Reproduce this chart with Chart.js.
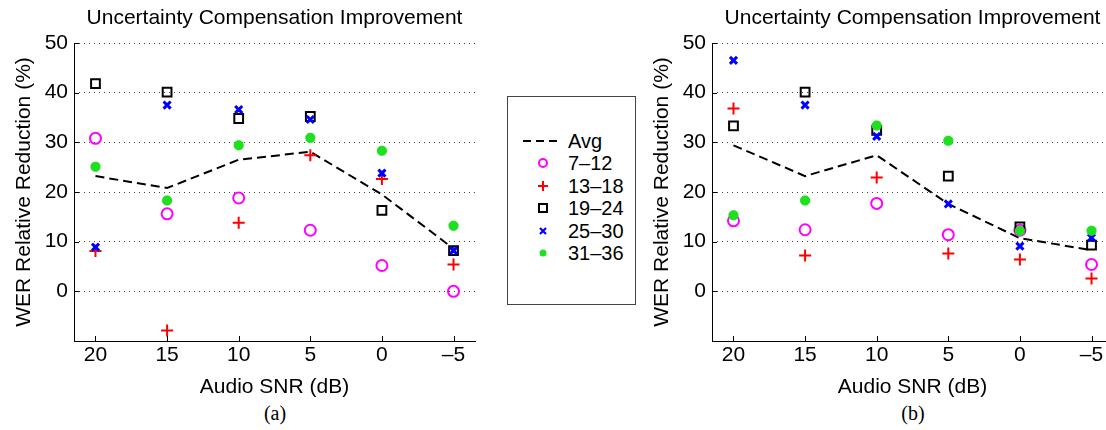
<!DOCTYPE html>
<html>
<head>
<meta charset="utf-8">
<script src="https://cdn.jsdelivr.net/npm/chart.js@4/dist/chart.umd.min.js"></script>
<style>
  body { margin: 0; width: 1106px; height: 430px; overflow: hidden; background: #fff; position: relative; font-family: "Liberation Sans", Arial, sans-serif; }
  canvas { position: absolute; top: 0; }
  #chartA { left: 0; }
  #chartB { left: 638px; }
  .cap { position: absolute; top: 402px; font: 20px "Liberation Serif", "Times New Roman", serif; width: 60px; text-align: center; }
  #legend { position: absolute; left: 507px; top: 96px; width: 127px; height: 207px; border: 1px solid #444; }
  .row { position: absolute; left: 0; height: 22px; width: 127px; font-size: 20px; line-height: 22px; color: #000; }
  .row svg { position: absolute; left: 13px; top: 0; }
  .row span { position: absolute; left: 60px; top: 0; }
</style>
</head>
<body>
<canvas id="chartA" width="490" height="400"></canvas>
<canvas id="chartB" width="490" height="400"></canvas>
<div class="cap" style="left:245px">(a)</div>
<div class="cap" style="left:883px">(b)</div>
<div id="legend"></div>
<script>
// Audio SNR (dB)
const snr = [20, 15, 10, 5, 0, -5];
const yTicks = [0, 10, 20, 30, 40, 50];
const seriesNames = ['Avg', '7\u201312', '13\u201318', '19\u201324', '25\u201330', '31\u201336'];

// panel (a)
const avgA   = [23.2, 20.8, 26.5, 28.1, 19.5, 8.6];
const g7_12A  = [30.8, 15.6, 18.8, 12.3, 5.2, 0.0];
const g13_18A = [8.1, -7.9, 13.8, 27.4, 22.6, 5.4];
const g19_24A = [41.8, 40.1, 34.8, 35.2, 16.3, 8.2];
const g25_30A = [8.9, 37.5, 36.6, 34.6, 23.8, 8.2];
const g31_36A = [25.1, 18.3, 29.4, 30.9, 28.3, 13.2];

// panel (b)
const avgB   = [29.4, 23.2, 27.4, 17.6, 10.7, 8.3];
const g7_12B  = [14.2, 12.4, 17.7, 11.4, 12.3, 5.4];
const g13_18B = [36.8, 7.2, 22.9, 7.6, 6.4, 2.6];
const g19_24B = [33.3, 40.1, 32.4, 23.2, 13.0, 9.3];
const g25_30B = [46.5, 37.5, 31.2, 17.6, 9.1, 10.8];
const g31_36B = [15.3, 18.3, 33.4, 30.3, 12.2, 12.2];

const FONT = "'Liberation Sans', Arial, sans-serif";
const FS = 21;

// marker look for each series (same order as seriesNames)
const looks = [
  { type: 'line', borderColor: '#000', borderWidth: 2, borderDash: [9, 5], pointRadius: 0, showLine: true },
  { pointStyle: 'circle', pointRadius: 5.5, borderColor: '#ff00ff', backgroundColor: 'rgba(0,0,0,0)', pointBorderWidth: 2 },
  { pointStyle: 'cross', pointRadius: 6, borderColor: '#ff0000', backgroundColor: '#ff0000', pointBorderWidth: 2 },
  { pointStyle: 'rect', pointRadius: 6.2, borderColor: '#000', backgroundColor: 'rgba(0,0,0,0)', pointBorderWidth: 2 },
  { pointStyle: 'crossRot', pointRadius: 5, borderColor: '#0000ff', backgroundColor: '#0000ff', pointBorderWidth: 3 },
  { pointStyle: 'star', pointRadius: 5, borderColor: '#1ee01e', backgroundColor: '#1ee01e', pointBorderWidth: 3.5 }
];

function pts(vals) {
  return snr.map((x, i) => ({ x: x, y: vals[i] }));
}

function makeDatasets(all) {
  return all.map((vals, i) => Object.assign({
    label: seriesNames[i],
    data: pts(vals),
    showLine: false,
    order: 6 - i
  }, looks[i]));
}

// small inward ticks like the original plot
const innerTicks = {
  id: 'innerTicks',
  afterDraw(chart) {
    const { ctx, chartArea, scales } = chart;
    ctx.save();
    ctx.strokeStyle = '#000';
    ctx.lineWidth = 1;
    ctx.setLineDash([]);
    ctx.beginPath();
    scales.y.ticks.forEach(t => {
      const y = Math.round(scales.y.getPixelForValue(t.value)) + 0.5;
      ctx.moveTo(chartArea.left, y);
      ctx.lineTo(chartArea.left + 5, y);
    });
    scales.x.ticks.forEach(t => {
      const x = Math.round(scales.x.getPixelForValue(t.value)) + 0.5;
      ctx.moveTo(x, chartArea.bottom);
      ctx.lineTo(x, chartArea.bottom - 5);
    });
    // axis lines
    ctx.moveTo(chartArea.left + 0.5, chartArea.top);
    ctx.lineTo(chartArea.left + 0.5, chartArea.bottom);
    ctx.stroke();
    ctx.restore();
  }
};

function makeChart(id, all) {
  return new Chart(document.getElementById(id), {
    type: 'scatter',
    data: { datasets: makeDatasets(all) },
    options: {
      responsive: false,
      animation: false,
      devicePixelRatio: 1,
      layout: { padding: { left: 0, right: 15, top: 0, bottom: 0 } },
      plugins: {
        legend: { display: false },
        tooltip: { enabled: false },
        title: {
          display: true,
          fullSize: false,
          text: 'Uncertainty Compensation Improvement',
          color: '#000',
          font: { family: FONT, size: FS, weight: 'normal' },
          padding: { top: 6, bottom: 11.8 }
        }
      },
      scales: {
        x: {
          type: 'linear',
          reverse: true,
          min: -6.5,
          max: 21.5,
          afterBuildTicks: s => { s.ticks = snr.map(v => ({ value: v })); },
          afterFit: s => { s.height = 59; },
          ticks: {
            color: '#000',
            padding: 2,
            font: { family: FONT, size: FS },
            callback: v => (v < 0 ? '\u2013' + Math.abs(v) : v)
          },
          grid: { display: true, drawOnChartArea: false, drawTicks: false },
          border: { display: true, color: '#000', width: 1 },
          title: {
            display: true,
            text: 'Audio SNR (dB)',
            color: '#000',
            font: { family: FONT, size: FS },
            padding: { top: 0, bottom: 0 }
          }
        },
        y: {
          min: -10,
          max: 50,
          afterBuildTicks: s => { s.ticks = yTicks.map(v => ({ value: v })); },
          afterFit: s => { s.width = 74; },
          ticks: {
            color: '#000',
            padding: 6,
            font: { family: FONT, size: FS }
          },
          grid: { drawTicks: false, color: '#444', lineWidth: 1 },
          border: { display: false, dash: [1, 4] },
          title: {
            display: true,
            text: 'WER Relative Reduction (%)',
            color: '#000',
            font: { family: FONT, size: FS },
            padding: { top: 12, bottom: 0 }
          }
        }
      }
    },
    plugins: [innerTicks]
  });
}

makeChart('chartA', [avgA, g7_12A, g13_18A, g19_24A, g25_30A, g31_36A]);
makeChart('chartB', [avgB, g7_12B, g13_18B, g19_24B, g25_30B, g31_36B]);

// legend box
const legend = document.getElementById('legend');
seriesNames.forEach((name, i) => {
  const row = document.createElement('div');
  row.className = 'row';
  row.style.top = (33 + i * 22.4) + 'px';
  const lk = looks[i];
  let svg;
  if (i === 0) {
    svg = '<line x1="2" y1="11" x2="41" y2="11" stroke="#000" stroke-width="2" stroke-dasharray="8,5"/>';
  } else if (lk.pointStyle === 'circle') {
    svg = '<circle cx="22" cy="11" r="4" fill="none" stroke="' + lk.borderColor + '" stroke-width="2"/>';
  } else if (lk.pointStyle === 'cross') {
    svg = '<path d="M22 6V16M17 11H27" stroke="' + lk.borderColor + '" stroke-width="2"/>';
  } else if (lk.pointStyle === 'rect') {
    svg = '<rect x="18" y="7" width="8" height="8" fill="none" stroke="#000" stroke-width="2"/>';
  } else if (lk.pointStyle === 'crossRot') {
    svg = '<path d="M19 8L25 14M25 8L19 14" stroke="' + lk.borderColor + '" stroke-width="2.2"/>';
  } else {
    svg = '<circle cx="22" cy="11" r="3.5" fill="' + lk.borderColor + '"/>';
  }
  row.innerHTML = '<svg width="44" height="22">' + svg + '</svg><span>' + name + '</span>';
  legend.appendChild(row);
});
</script>
</body>
</html>
